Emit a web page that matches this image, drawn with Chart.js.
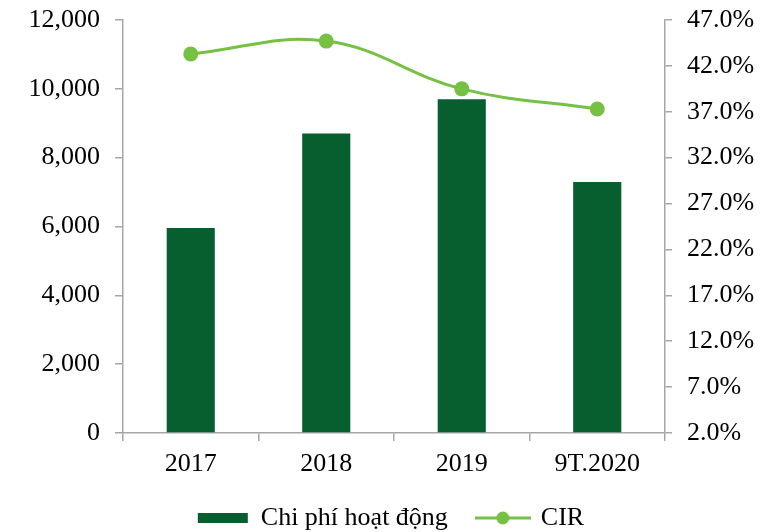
<!DOCTYPE html>
<html>
<head>
<meta charset="utf-8">
<script src="https://cdn.jsdelivr.net/npm/chart.js@4/dist/chart.umd.min.js"></script>
<style>
  html, body { margin: 0; padding: 0; background: #fff; }
  #wrap { width: 782px; height: 532px; }
</style>
</head>
<body>
<div id="wrap"><canvas id="cirChart"></canvas></div>
<script>
// Operating expenses (bars, left axis) and cost-to-income ratio (line, right axis)
const periods = ["2017", "2018", "2019", "9T.2020"];
const opexValues = [5960, 8700, 9700, 7290];
const cirValues = [43.3, 44.7, 39.5, 37.3];

const opexTicks = { min: 0, max: 12000, step: 2000 };
const cirTicks = { min: 2, max: 47, step: 5 };

const barColor = "#075f30";
const lineColor = "#76c043";
const axisColor = "#a6a6a6";
const fontFamily = "'Liberation Serif', 'Times New Roman', serif";

// little "line with a dot" marker for the CIR legend entry
const lineMarker = document.createElement("canvas");
lineMarker.width = 56;
lineMarker.height = 16;
(() => {
    const c = lineMarker.getContext("2d");
    c.strokeStyle = lineColor;
    c.lineWidth = 3;
    c.beginPath();
    c.moveTo(0, 8);
    c.lineTo(56, 8);
    c.stroke();
    c.fillStyle = lineColor;
    c.beginPath();
    c.arc(28, 8, 6.5, 0, Math.PI * 2);
    c.fill();
})();

// keep the value axes from reserving extra room above/below for their labels
const trimPadding = (scale) => {
    scale.paddingTop = 0;
    scale.paddingBottom = 0;
};

Chart.defaults.font.family = fontFamily;
Chart.defaults.font.size = 26;
Chart.defaults.color = "#000";

new Chart(document.getElementById("cirChart"), {
    data: {
        labels: periods,
        datasets: [
            {
                type: "bar",
                label: "Chi phí hoạt động",
                data: opexValues,
                backgroundColor: barColor,
                borderWidth: 0,
                yAxisID: "y",
                barPercentage: 0.355,
                categoryPercentage: 1,
                order: 2
            },
            {
                type: "line",
                label: "CIR",
                data: cirValues,
                borderColor: lineColor,
                backgroundColor: lineColor,
                borderWidth: 3,
                pointRadius: 7.5,
                pointHoverRadius: 7.5,
                pointBorderWidth: 0,
                tension: 0.4,
                yAxisID: "y1",
                order: 1
            }
        ]
    },
    options: {
        responsive: true,
        maintainAspectRatio: false,
        animation: false,
        layout: { padding: { top: 20, bottom: -9 } },
        scales: {
            x: {
                grid: { display: true, drawOnChartArea: false, offset: true, tickLength: 8, color: axisColor, lineWidth: 1.5 },
                border: { display: true, color: axisColor, width: 1.5 },
                ticks: { padding: 8 },
                afterFit: (scale) => { scale.height = 42; }
            },
            y: {
                position: "left",
                min: opexTicks.min,
                max: opexTicks.max,
                grid: { display: true, drawOnChartArea: false, tickLength: 8, color: axisColor, lineWidth: 1.5 },
                border: { display: true, color: axisColor, width: 1.5 },
                ticks: {
                    stepSize: opexTicks.step,
                    padding: 15,
                    callback: (v) => v.toLocaleString("en-US")
                },
                afterFit: (scale) => { scale.width = 123; trimPadding(scale); }
            },
            y1: {
                position: "right",
                min: cirTicks.min,
                max: cirTicks.max,
                grid: { display: true, drawOnChartArea: false, tickLength: 7, color: axisColor, lineWidth: 1.5 },
                border: { display: true, color: axisColor, width: 1.5 },
                ticks: {
                    stepSize: cirTicks.step,
                    padding: 15,
                    callback: (v) => v.toFixed(1) + "%"
                },
                afterFit: (scale) => { scale.width = 117; trimPadding(scale); }
            }
        },
        plugins: {
            tooltip: { enabled: false },
            legend: {
                position: "bottom",
                labels: {
                    usePointStyle: true,
                    pointStyleWidth: 50,
                    boxHeight: 10,
                    padding: 30,
                    font: { size: 26 },
                    sort: (a, b) => a.datasetIndex - b.datasetIndex,
                    generateLabels: (chart) => {
                        const items = Chart.defaults.plugins.legend.labels.generateLabels(chart);
                        items.forEach((item) => {
                            item.pointStyle = item.datasetIndex === 0 ? "rect" : lineMarker;
                        });
                        return items;
                    }
                }
            }
        }
    }
});
</script>
</body>
</html>
